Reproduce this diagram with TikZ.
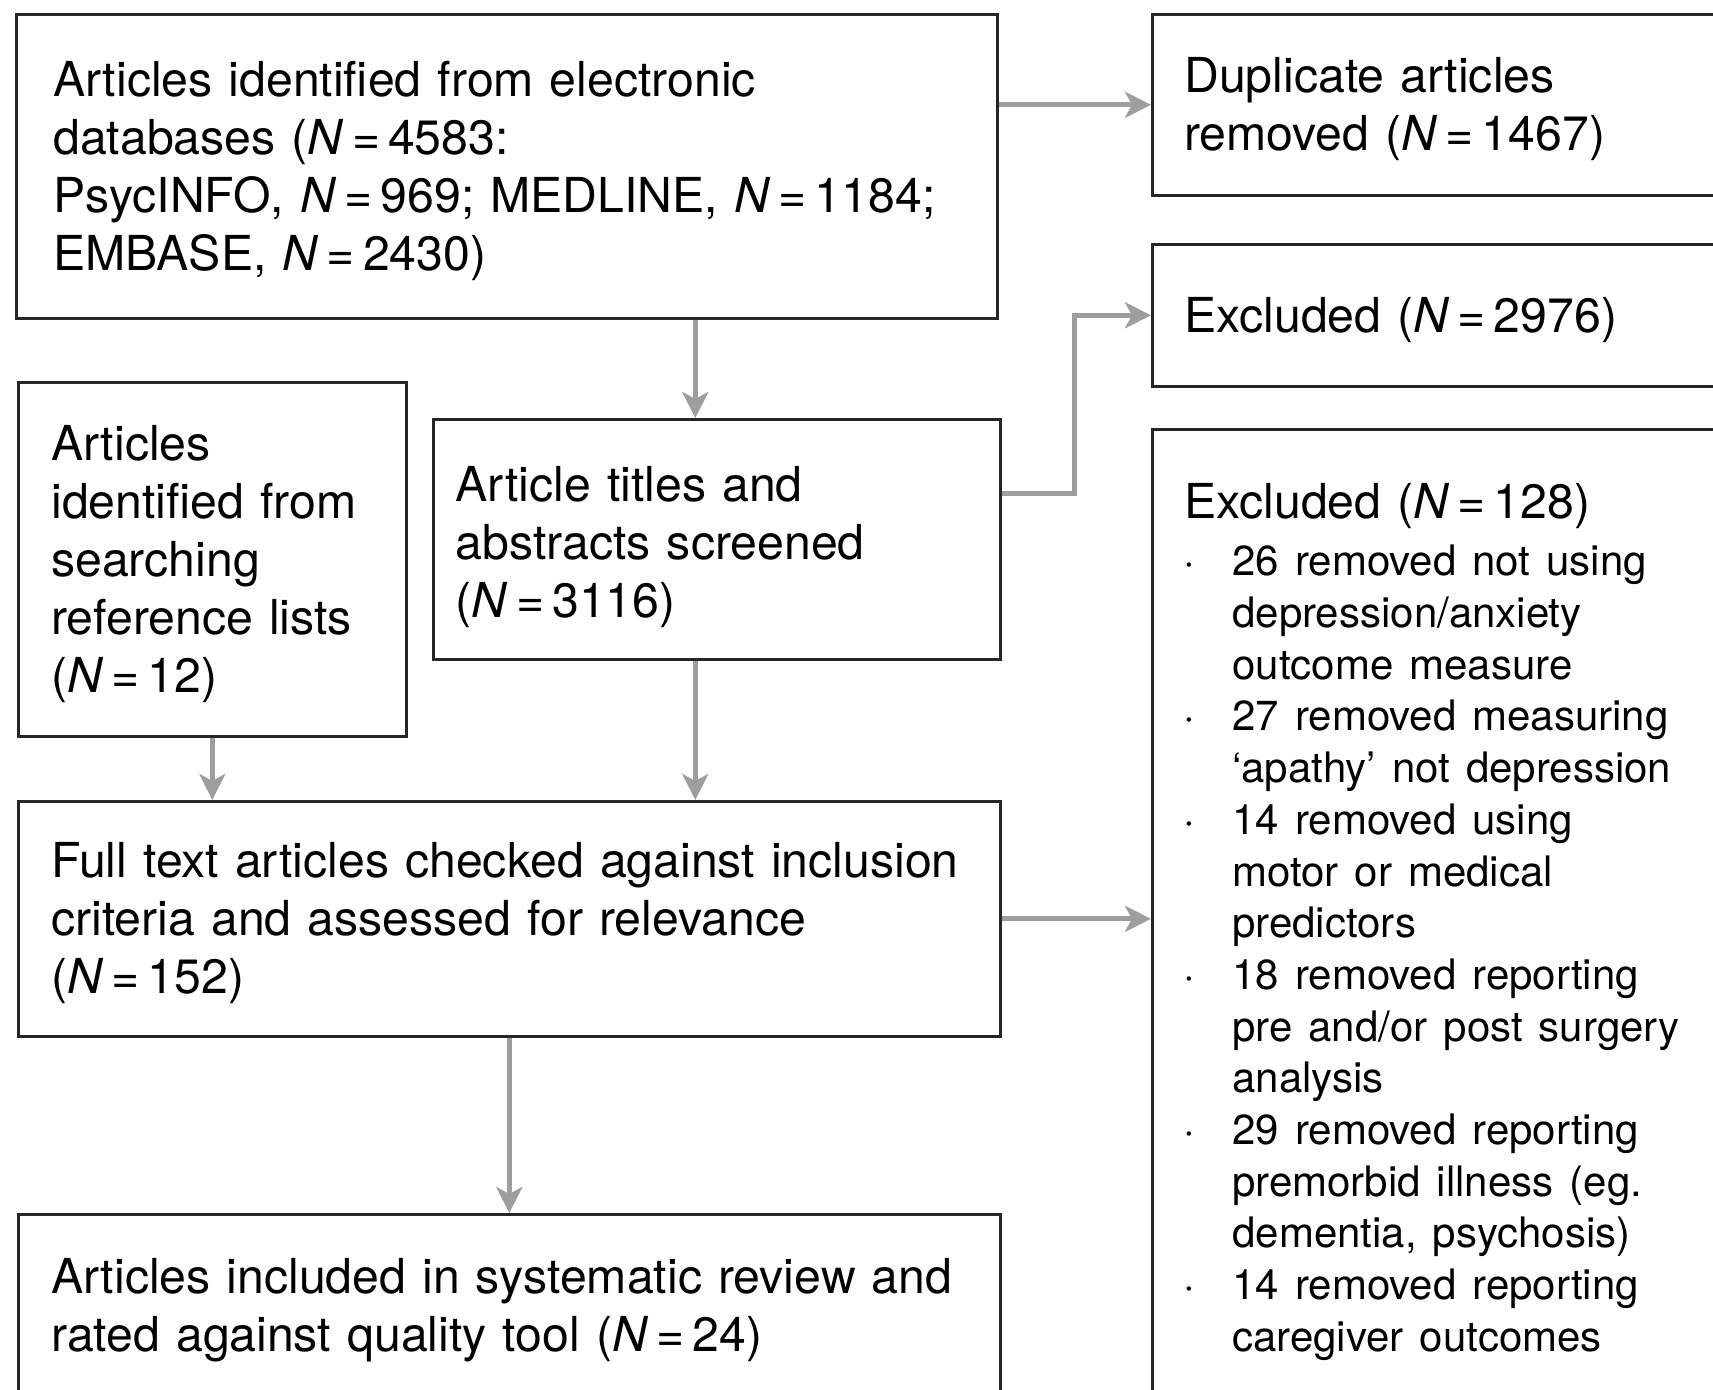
\documentclass[tikz,border=0pt]{standalone}
\usepackage{fontspec}
\setmainfont{TeX Gyre Heros}
\usetikzlibrary{arrows.meta}
\hyphenpenalty=10000
\newcommand{\Nis}{\textit{N}\,=\,}
\newcommand{\exitem}[1]{\par\hangindent=24pt\hangafter=1\noindent\makebox[24pt][l]{\hspace{-0.5pt}·}#1}

\begin{document}
\begin{tikzpicture}[x=0.5pt, y=-0.5pt,
box/.style = {shape=rectangle, draw=black!85, line width=1.3pt,
	anchor=north west, align=left, inner ysep=0pt,
	execute at begin node={\rule{0pt}{22pt}},
	font=\fontsize{24.1}{29}\selectfont},
arr/.style = {draw=black!38, line width=2.5pt,
	-{Stealth[length=13pt,width=13pt,inset=3.5pt]}}]
\useasboundingbox (0,0) rectangle (1713,1390);
\node[box, minimum width=490.5pt, minimum height=152pt, inner xsep=18.5pt, text width=453.5pt] (src) at (15,13)
	{Articles identified from electronic\\databases (\Nis4583:\\\mbox{PsycINFO, \Nis969; MEDLINE, \Nis1184;}\\EMBASE, \Nis2430)};
\node[box, minimum width=294.5pt, minimum height=90.5pt, inner xsep=16pt, text width=262.5pt] (dup) at (1151,13)
	{Duplicate articles\\removed (\Nis1467)};
\node[box, minimum width=294.5pt, minimum height=71pt, inner xsep=16pt, text width=262.5pt] (exone) at (1151,243)
	{Excluded (\Nis2976)};
\node[box, minimum width=294.5pt, minimum height=488pt, inner xsep=16pt, text width=262.5pt] (extwo) at (1151,428)
	{Excluded (\Nis128)\par\vspace{3pt}\fontsize{21}{25.85}\selectfont
	\exitem{26 removed not using\newline depression/anxiety\newline outcome measure}
	\exitem{27 removed measuring\newline ‘apathy’ not depression}
	\exitem{14 removed using\newline motor or medical\newline predictors}
	\exitem{18 removed reporting\newline pre and/or post surgery\newline analysis}
	\exitem{29 removed reporting\newline premorbid illness (eg.\newline dementia, psychosis)}
	\exitem{14 removed reporting\newline caregiver outcomes}\par};
\node[box, minimum width=194pt, minimum height=177pt, inner xsep=16.5pt, text width=161pt] (ref) at (17,381)
	{Articles\\identified from\\searching\\reference lists\\(\Nis12)};
\node[box, minimum width=283.5pt, minimum height=120pt, inner xsep=11.25pt, text width=261pt] (titles) at (432,418)
	{\rule{0pt}{25pt}Article titles and\\abstracts screened\\(\Nis3116)};
\node[box, minimum width=491pt, minimum height=117.5pt, inner xsep=16.5pt, text width=458pt] (full) at (17,800)
	{\mbox{Full text articles checked against inclusion}\\criteria and assessed for relevance\\(\Nis152)};
\node[box, minimum width=491pt, minimum height=91.5pt, inner xsep=16.5pt, text width=458pt] (incl) at (17,1213)
	{\mbox{Articles included in systematic review and}\\rated against quality tool (\Nis24)};
\draw[arr] (src.east |- dup.west) -- (dup.west);
\draw[arr] ([xshift=-10.75pt]titles.north |- src.south) -- ([xshift=-10.75pt]titles.north);
\draw[arr] ([yshift=23pt]titles.east) -- ++(36.5pt,0) |- (exone.west);
\draw[arr] (ref.south) -- (ref.south |- full.north);
\draw[arr] ([xshift=-10.75pt]titles.south) -- ([xshift=-10.75pt]titles.south |- full.north);
\draw[arr] (full.east) -- (full.east -| extwo.west);
\draw[arr] (full.south) -- (incl.north);
\end{tikzpicture}
\end{document}
